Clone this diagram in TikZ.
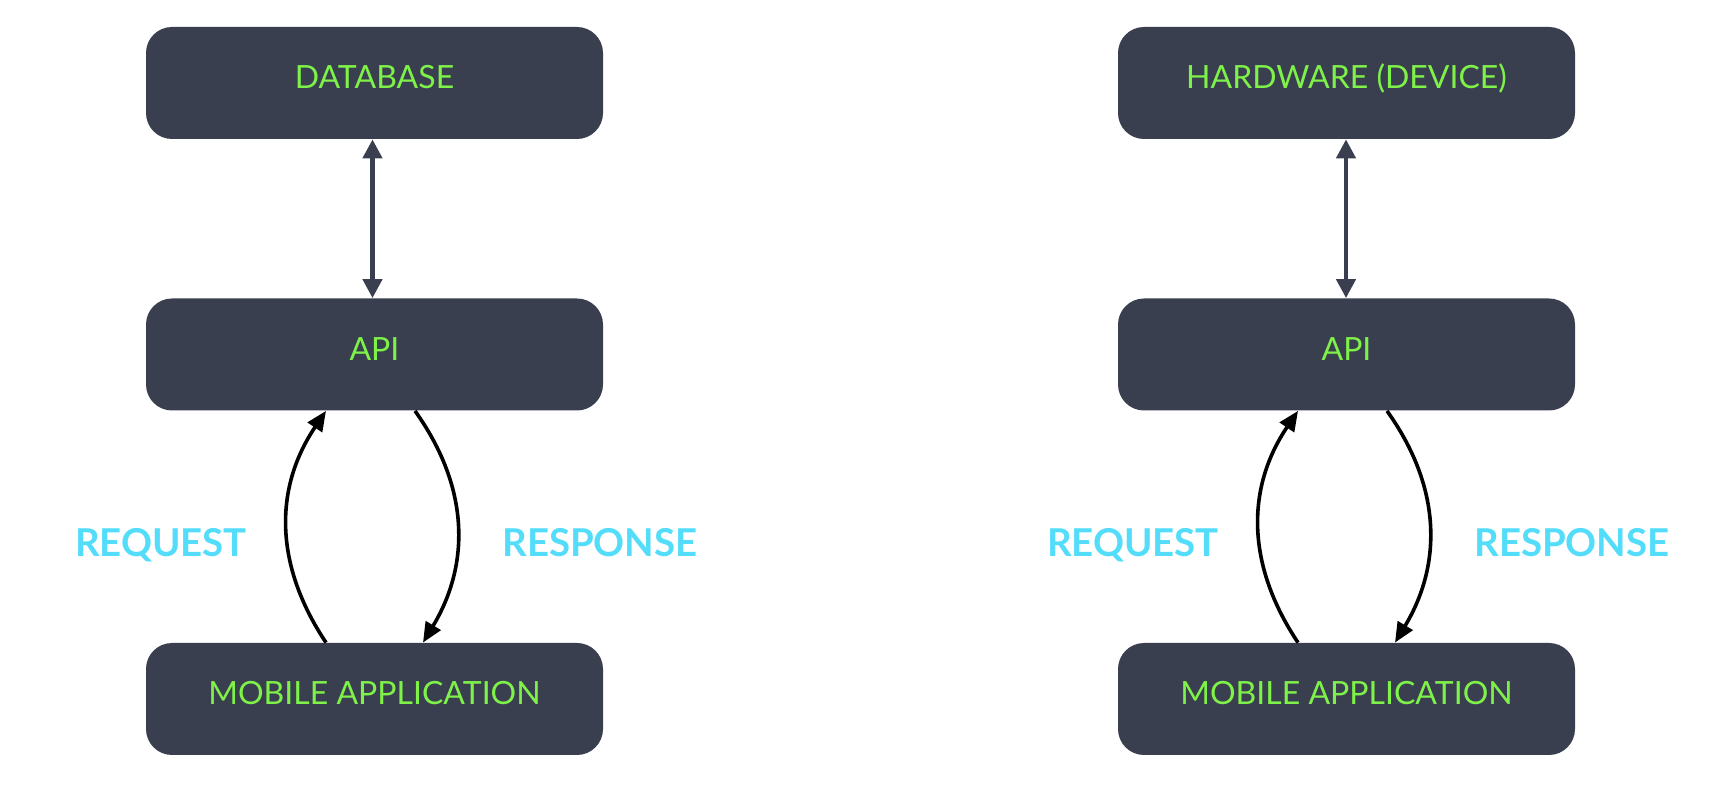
\documentclass[tikz,border=0pt]{standalone}
\usepackage{fontspec}
\setmainfont{Lato}
\usetikzlibrary{arrows.meta}
\definecolor{boxc}{RGB}{58,63,80}
\definecolor{greenc}{RGB}{126,242,72}
\definecolor{cyanc}{RGB}{84,221,250}
\tikzset{
  box/.style={fill=boxc, rounded corners=13pt, minimum width=228.5pt, minimum height=56pt,
    inner sep=0pt, text=greenc, font=\fontsize{16}{18}\selectfont, text height=11.5pt, text depth=5.5pt},
  lbl/.style={text=cyanc, font=\fontsize{19.2}{22}\selectfont\bfseries, anchor=base, inner sep=0pt},
  dbl/.style={draw=boxc, line width=2.2pt, {Triangle[length=9.5pt,width=9.5pt]}-{Triangle[length=9.5pt,width=9.5pt]}},
  flow/.style={draw=black, line width=1.8pt, -{Triangle[length=10pt,width=8.5pt]}}
}
\begin{document}
\begin{tikzpicture}[x=0.5pt,y=-0.5pt]
\useasboundingbox[fill=white] (0,0) rectangle (1736,806);
% left
\node[box] (db) at (374.5,83) {DATABASE};
\node[box] (api1) at (374.5,354.5) {API};
\node[box] (mob1) at (374.5,699) {MOBILE APPLICATION};
\node[lbl] (req1) at (161,557) {REQUEST};
\node[lbl] (res1) at (600,557) {RESPONSE};
\draw[dbl] ([xshift=-1pt]db.south) -- ([xshift=-1pt]api1.north);
\draw[flow] ([xshift=-24.25pt]mob1.north) .. controls +(-52,-78) and +(-52,77) .. ([xshift=-24.25pt]api1.south);
\draw[flow] ([xshift=20.25pt]api1.south) .. controls +(55,77) and +(47,-78) .. ([xshift=24.25pt]mob1.north);
% right
\node[box] (hw) at (1346.5,83) {HARDWARE (DEVICE)};
\node[box] (api2) at (1346.5,354.5) {API};
\node[box] (mob2) at (1346.5,699) {MOBILE APPLICATION};
\node[lbl] (req2) at (1133,557) {REQUEST};
\node[lbl] (res2) at (1572,557) {RESPONSE};
\draw[dbl] ([xshift=-0.25pt]hw.south) -- ([xshift=-0.25pt]api2.north);
\draw[flow] ([xshift=-24.25pt]mob2.north) .. controls +(-52,-78) and +(-52,77) .. ([xshift=-24.25pt]api2.south);
\draw[flow] ([xshift=20.25pt]api2.south) .. controls +(55,77) and +(47,-78) .. ([xshift=24.25pt]mob2.north);
\end{tikzpicture}
\end{document}
